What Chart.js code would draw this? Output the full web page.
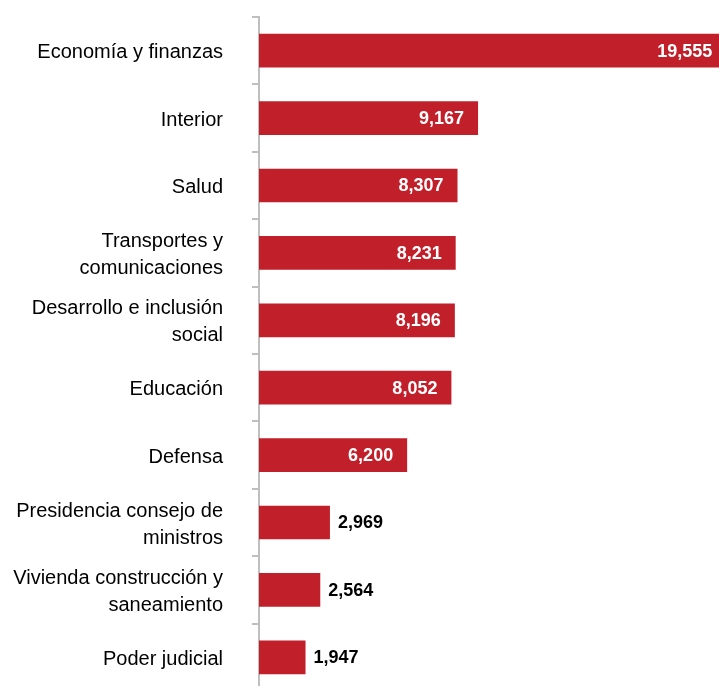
<!DOCTYPE html>
<html>
<head>
<meta charset="utf-8">
<script src="https://cdn.jsdelivr.net/npm/chart.js@4/dist/chart.umd.min.js"></script>
<style>
  html, body { margin: 0; padding: 0; background: #fff; overflow: hidden; }
  /* plot runs a few px past the bottom of the window, as in the original */
  #wrap { width: 719px; height: 691px; position: relative; }
</style>
</head>
<body>
<div id="wrap"><canvas id="sectorChart"></canvas></div>
<script>
// Presupuesto por sector
const sectors = [
  'Economía y finanzas',
  'Interior',
  'Salud',
  ['Transportes y', 'comunicaciones'],
  ['Desarrollo e inclusión', 'social'],
  'Educación',
  'Defensa',
  ['Presidencia consejo de', 'ministros'],
  ['Vivienda construcción y', 'saneamiento'],
  'Poder judicial'
];
const amounts = [19555, 9167, 8307, 8231, 8196, 8052, 6200, 2969, 2564, 1947];

const barColor = '#C1202A';
const axisColor = '#BFBFBF';
const fontFamily = '"Liberation Sans", Arial, sans-serif';

// Value labels: white inside long bars, black outside short ones
const valueLabels = {
  id: 'valueLabels',
  beforeDraw(chart) {
    // nudge the category labels down a little
    const items = chart.scales.y.getLabelItems(chart.chartArea);
    items.forEach(item => {
      if (!item._nudged) {
        item.options.translation[1] += 2;
        item._nudged = true;
      }
    });
  },
  afterDatasetsDraw(chart) {
    const ctx = chart.ctx;
    const meta = chart.getDatasetMeta(0);
    ctx.save();
    ctx.font = 'bold 18px ' + fontFamily;
    ctx.textBaseline = 'middle';
    meta.data.forEach((bar, i) => {
      const value = amounts[i];
      const text = value.toLocaleString('en-US');
      if (value > 5000) {
        ctx.fillStyle = '#FFFFFF';
        ctx.textAlign = 'right';
        ctx.fillText(text, bar.x - 14, bar.y + 1);
      } else {
        ctx.fillStyle = '#000000';
        ctx.textAlign = 'left';
        ctx.fillText(text, bar.x + 8, bar.y + 1);
      }
    });
    ctx.restore();
  }
};

new Chart(document.getElementById('sectorChart'), {
  type: 'bar',
  data: {
    labels: sectors,
    datasets: [{
      data: amounts,
      backgroundColor: barColor,
      borderWidth: 0,
      barPercentage: 0.5,
      categoryPercentage: 1.0
    }]
  },
  options: {
    indexAxis: 'y',
    responsive: true,
    maintainAspectRatio: false,
    animation: false,
    layout: {
      padding: { top: 17, bottom: 0, left: 0, right: 0 }
    },
    plugins: {
      legend: { display: false },
      tooltip: { enabled: false }
    },
    scales: {
      x: {
        display: false,
        min: 0,
        max: 19250
      },
      y: {
        afterFit(scale) {
          // fixed axis position, no extra room for the multi-line labels
          scale.width = 259;
          scale.paddingTop = 0;
          scale.paddingBottom = 0;
        },
        border: {
          display: true,
          color: axisColor,
          width: 2
        },
        grid: {
          drawOnChartArea: false,
          drawTicks: true,
          tickLength: 7,
          color: axisColor,
          lineWidth: 2,
          offset: true
        },
        ticks: {
          color: '#000000',
          padding: 29,
          font: {
            family: fontFamily,
            size: 20,
            lineHeight: 1.35
          }
        }
      }
    }
  },
  plugins: [valueLabels]
});
</script>
</body>
</html>
